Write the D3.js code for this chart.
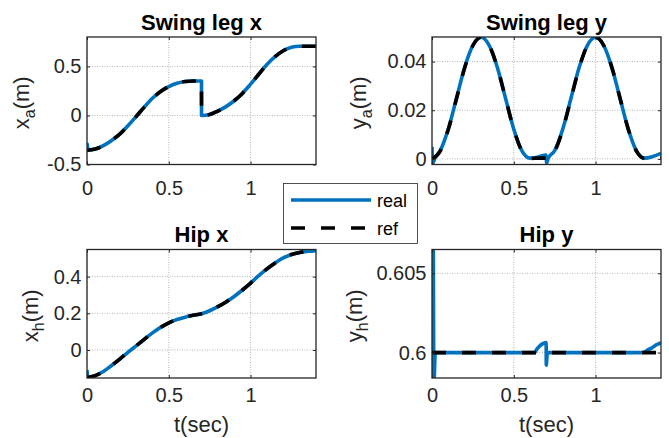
<!DOCTYPE html>
<html>
<head>
<meta charset="utf-8">
<title></title>
<style>
  body { margin:0; background:#fff; }
  svg { display:block; font-family:"Liberation Sans", Arial, Helvetica, sans-serif; }
  .grid line { stroke:#b4b4b4; stroke-width:1; stroke-dasharray:1,1.5; }
  .box { fill:none; stroke:#262626; stroke-width:1.3; }
  .axis line { stroke:#262626; stroke-width:1; }
  .axis text { fill:#262626; }
  .real { fill:none; stroke:#0072bd; stroke-width:3.6; stroke-linejoin:round; }
  .ref { fill:none; stroke:#000; stroke-width:3.6; stroke-dasharray:14,16; }
</style>
</head>
<body>
<svg id="chart" width="669" height="438"></svg>
<script src="https://d3js.org/d3.v7.min.js"></script>
<script>
// ---- data ----
var xTicks = [0, 0.5, 1];

// swing leg x
var tSwingXRef = [0,0.05,0.1,0.15,0.2,0.25,0.3,0.35,0.4,0.45,0.5,0.55,0.6,0.65,0.7,0.7001,0.75,0.8,0.85,0.9,0.95,1.0,1.05,1.1,1.15,1.2,1.25,1.3,1.35,1.4];
var swingXRef  = [-0.355,-0.343,-0.308,-0.255,-0.19,-0.105,-0.012,0.085,0.175,0.245,0.295,0.328,0.347,0.351,0.351,0.0,0.01,0.045,0.09,0.15,0.225,0.32,0.42,0.52,0.6,0.66,0.695,0.705,0.706,0.706];
var tSwingXReal = [0,0.008,0.05,0.1,0.15,0.2,0.25,0.3,0.35,0.4,0.45,0.5,0.55,0.6,0.65,0.7,0.7001,0.75,0.8,0.85,0.9,0.95,1.0,1.05,1.1,1.15,1.2,1.25,1.3,1.35,1.4];
var swingXReal  = [-0.28,-0.352,-0.343,-0.308,-0.255,-0.19,-0.105,-0.012,0.085,0.175,0.245,0.295,0.328,0.347,0.351,0.351,0.0,0.01,0.045,0.09,0.15,0.225,0.32,0.42,0.52,0.6,0.66,0.695,0.705,0.706,0.706];
var swingXTicks = [-0.5, 0, 0.5];

// swing leg y
var tSwingYRef = tSwingXRef;
var swingYRef  = [0,0.0032,0.0122,0.0248,0.0375,0.0466,0.05,0.0466,0.0375,0.0248,0.0122,0.0032,0.0002,0.0003,0.0003,0,0.0032,0.0122,0.0248,0.0375,0.0466,0.05,0.0466,0.0375,0.0248,0.0122,0.0032,0.0002,0.0003,0.0005];
var tSwingYReal = [0,0.004,0.02,0.05,0.1,0.15,0.2,0.25,0.3,0.35,0.4,0.45,0.5,0.55,0.6,0.65,0.698,0.7001,0.71,0.75,0.8,0.85,0.9,0.95,1.0,1.05,1.1,1.15,1.2,1.25,1.3,1.35,1.4];
var swingYReal  = [0.005,-0.0018,0.0006,0.0034,0.0124,0.025,0.0377,0.0467,0.05,0.0466,0.0375,0.0248,0.0122,0.0033,0.0003,0.0008,0.0016,-0.0018,0.0002,0.0034,0.0124,0.025,0.0377,0.0467,0.05,0.0466,0.0375,0.0248,0.0122,0.0033,0.0003,0.0010,0.0023];
var swingYTicks = [0, 0.02, 0.04];

// hip x
var tHipXRef = [0,0.05,0.1,0.15,0.2,0.25,0.3,0.35,0.4,0.45,0.5,0.55,0.6,0.65,0.7,0.75,0.8,0.85,0.9,0.95,1.0,1.05,1.1,1.15,1.2,1.25,1.3,1.35,1.4];
var hipXRef  = [-0.15,-0.14,-0.118,-0.085,-0.05,-0.013,0.022,0.058,0.093,0.123,0.148,0.166,0.179,0.189,0.198,0.214,0.236,0.262,0.292,0.327,0.365,0.405,0.442,0.475,0.502,0.521,0.532,0.538,0.542];
var tHipXReal = [0,0.006,0.05,0.1,0.15,0.2,0.25,0.3,0.35,0.4,0.45,0.5,0.55,0.6,0.65,0.7,0.75,0.8,0.85,0.9,0.95,1.0,1.05,1.1,1.15,1.2,1.25,1.3,1.35,1.4];
var hipXReal  = [-0.11,-0.152,-0.14,-0.118,-0.085,-0.05,-0.013,0.022,0.058,0.093,0.123,0.148,0.166,0.179,0.189,0.198,0.214,0.236,0.262,0.292,0.327,0.365,0.405,0.442,0.475,0.502,0.521,0.532,0.538,0.542];
var hipXTicks = [0, 0.2, 0.4];

// hip y
var tHipYRef = [0, 1.4];
var hipYRef  = [0.6, 0.6];
var tHipYReal = [0.008,0.012,0.02,0.05,0.6,0.626,0.64,0.657,0.675,0.698,0.6985,0.703,0.706,0.75,1.25,1.273,1.3,1.324,1.345,1.365,1.385,1.4];
var hipYReal  = [0.6067,0.5982,0.6,0.6,0.6,0.6,0.6002,0.6004,0.60055,0.60063,0.5992,0.5998,0.6,0.6,0.6,0.6,0.60005,0.6002,0.6003,0.60045,0.60055,0.60063];
var hipYTicks = [0.6, 0.605];

var panels = [
  {title:'Swing leg x', v:'x', sub:'a', left:87,  top:37,    bottom:164.5, dom:[-0.5, 0.8],        yt:swingXTicks, real:[tSwingXReal, swingXReal], ref:[tSwingXRef, swingXRef], labX:29,  xPad:16, xlab:false},
  {title:'Swing leg y', v:'y', sub:'a', left:432, top:37,    bottom:164.5, dom:[-0.0023, 0.0501],  yt:swingYTicks, real:[tSwingYReal, swingYReal], ref:[tSwingYRef, swingYRef], labX:366, xPad:16, xlab:false},
  {title:'Hip x',       v:'x', sub:'h', left:87,  top:249.5, bottom:378,   dom:[-0.153, 0.548],    yt:hipXTicks,   real:[tHipXReal, hipXReal],     ref:[tHipXRef, hipXRef],     labX:38,  xPad:10, xlab:true},
  {title:'Hip y',       v:'y', sub:'h', left:432, top:249.5, bottom:378,   dom:[0.5984, 0.6065],   yt:hipYTicks,   real:[tHipYReal, hipYReal],     ref:[tHipYRef, hipYRef],     labX:362, xPad:10, xlab:true}
];
var plotW = 229;

var svg = d3.select('#chart');

panels.forEach(function(p, i){
  var x = d3.scaleLinear().domain([0, 1.4]).range([p.left, p.left + plotW]);
  var y = d3.scaleLinear().domain(p.dom).range([p.bottom, p.top]);
  var g = svg.append('g');

  // grid
  var grid = g.append('g').attr('class', 'grid');
  grid.selectAll('.gx').data(xTicks).enter().append('line')
    .attr('x1', d=>x(d)).attr('x2', d=>x(d)).attr('y1', p.top).attr('y2', p.bottom);
  grid.selectAll('.gy').data(p.yt).enter().append('line')
    .attr('x1', p.left).attr('x2', p.left + plotW).attr('y1', d=>y(d)).attr('y2', d=>y(d));

  // lines
  var clipId = 'clip' + i;
  svg.append('clipPath').attr('id', clipId).append('rect')
    .attr('x', p.left).attr('y', p.top).attr('width', plotW).attr('height', p.bottom - p.top);
  var line = d3.line().x(d=>x(d[0])).y(d=>y(d[1])).curve(d3.curveMonotoneX);
  var realPts = d3.zip(p.real[0], p.real[1]);
  var refPts = d3.zip(p.ref[0], p.ref[1]);
  g.append('path').attr('class', 'real').attr('clip-path', 'url(#' + clipId + ')').attr('d', line(realPts));
  g.append('path').attr('class', 'ref').attr('clip-path', 'url(#' + clipId + ')').attr('d', line(refPts));

  // axes, ticks pointing inside
  var fmt = d => String(d);
  g.append('g').attr('class', 'axis').attr('transform', 'translate(0,' + p.bottom + ')')
    .call(d3.axisBottom(x).tickValues(xTicks).tickSize(-3).tickPadding(p.xPad).tickFormat(fmt))
    .attr('font-size', 20).attr('font-family', null);
  g.append('g').attr('class', 'axis').attr('transform', 'translate(0,' + p.top + ')')
    .call(d3.axisTop(x).tickValues(xTicks).tickSize(-3).tickFormat(''));
  g.append('g').attr('class', 'axis').attr('transform', 'translate(' + p.left + ',0)')
    .call(d3.axisLeft(y).tickValues(p.yt).tickSize(-3).tickPadding(5.5).tickFormat(fmt))
    .attr('font-size', 20).attr('font-family', null);
  g.append('g').attr('class', 'axis').attr('transform', 'translate(' + (p.left + plotW) + ',0)')
    .call(d3.axisRight(y).tickValues(p.yt).tickSize(-3).tickFormat(''));
  g.selectAll('.axis .domain').remove();

  g.append('rect').attr('class', 'box')
    .attr('x', p.left).attr('y', p.top).attr('width', plotW).attr('height', p.bottom - p.top);

  // title
  g.append('text').attr('x', p.left + plotW / 2).attr('y', p.top - 7.5)
    .attr('text-anchor', 'middle').attr('font-size', 22).attr('font-weight', 'bold')
    .attr('fill', '#000').text(p.title);

  // y label with subscript
  var yl = g.append('text')
    .attr('transform', 'translate(' + p.labX + ',' + ((p.top + p.bottom) / 2 + 2) + ') rotate(-90)')
    .attr('text-anchor', 'middle').attr('font-size', 22).attr('fill', '#262626');
  yl.append('tspan').text(p.v);
  yl.append('tspan').attr('dy', 6).attr('font-size', 16).text(p.sub);
  yl.append('tspan').attr('dy', -6).text('(m)');

  if (p.xlab) {
    g.append('text').attr('x', p.left + plotW / 2).attr('y', 432)
      .attr('text-anchor', 'middle').attr('font-size', 22).attr('fill', '#262626').text('t(sec)');
  }
});

// legend
var leg = svg.append('g');
leg.append('rect').attr('x', 283.5).attr('y', 183.5).attr('width', 134).attr('height', 60)
  .attr('fill', '#fff').attr('stroke', '#262626').attr('stroke-width', 0.8);
var legItems = [{name:'real', cls:'real'}, {name:'ref', cls:'ref'}];
legItems.forEach(function(d, i){
  var yy = 200 + i * 28;
  leg.append('line').attr('class', d.cls).attr('x1', 291).attr('x2', 371).attr('y1', yy).attr('y2', yy);
  leg.append('text').attr('x', 377).attr('y', yy + 6.5).attr('font-size', 18).attr('fill', '#000').text(d.name);
});
</script>
</body>
</html>
